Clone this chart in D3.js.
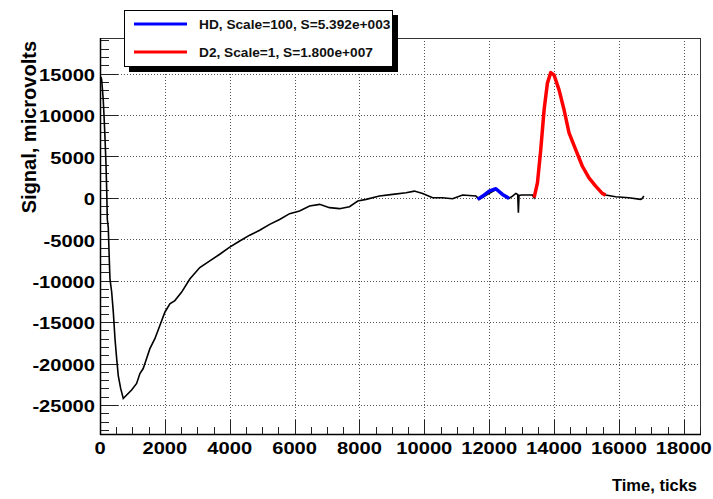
<!DOCTYPE html>
<html><head><meta charset="utf-8">
<script src="https://cdn.jsdelivr.net/npm/d3@7"></script>
<style>
body{margin:0;background:#fff;}
svg text{font-family:"Liberation Sans",Arial,Helvetica,sans-serif;}
</style></head>
<body><svg id="c" width="713" height="499"></svg>
<script>
// Signal (black) - time ticks and microvolts
const blackTicks = [30,52,100,123,154,185,206,225,255,286,308,360,410,462,514,563,637,718,822,975,1129,1231,1332,1437,1538,1692,1846,2000,2154,2308,2513,2769,3077,3385,3692,4000,4308,4615,4923,5231,5538,5846,6154,6462,6770,7077,7385,7692,7948,8206,8616,9025,9437,9693,9948,10256,10563,10871,11179,11591,11693,11900,12206,12400,12615,12720,12820,12880,12900,12920,13000,13333,13385,13488,13590,13693,13795,13898,14000,14154,14308,14462,14667,14873,15077,15282,15487,15590,15900,16308,16667,16700,16770];
const blackValues = [14600,14240,11840,10040,7270,4030,1020,-2580,-3550,-7390,-9800,-11360,-13760,-17000,-19400,-21450,-23000,-24220,-23800,-23200,-22400,-21200,-20600,-19400,-18200,-17000,-15400,-13800,-12800,-12400,-11400,-9800,-8400,-7600,-6800,-5950,-5200,-4500,-3900,-3200,-2600,-1900,-1590,-980,-780,-1180,-1300,-1060,-380,-180,220,420,620,820,540,20,20,-100,340,220,-180,300,1000,400,-60,220,540,400,-1780,300,340,340,20,1820,5830,10640,13850,15120,14840,13040,10640,7840,5830,3820,2420,1420,540,340,140,20,-180,-150,220];
// HD, Scale=100 (blue)
const hdTicks = [11640,11800,12000,12206,12410,12615];
const hdValues = [-180,220,820,1100,420,-60];
// D2, Scale=1 (red)
const d2Ticks = [13385,13488,13590,13693,13795,13898,14000,14154,14308,14462,14667,14873,15077,15282,15487,15590];
const d2Values = [20,1820,5830,10640,13850,15120,14840,13040,10640,7840,5830,3820,2420,1420,540,340];

const xTickVals = [0,2000,4000,6000,8000,10000,12000,14000,16000,18000];
const yTickVals = [-25000,-20000,-15000,-10000,-5000,0,5000,10000,15000];
const legendLabels = ["HD, Scale=100, S=5.392e+003","D2, Scale=1, S=1.800e+007"];
const legendColors = ["#0000ff","#ff0000"];

const L=100,R=700,T=38,B=434;
const svg=d3.select("#c");
const x=d3.scaleLinear().domain([0,18500]).range([L,R]);
const y=d3.scaleLinear().domain([-28500,19300]).range([B,T]);

// grid
const g=svg.append("g");
g.selectAll(".gx").data(xTickVals.filter(v=>v>0)).enter().append("line")
 .attr("x1",d=>Math.round(x(d))+0.5).attr("x2",d=>Math.round(x(d))+0.5).attr("y1",T).attr("y2",B)
 .attr("stroke","#555").attr("stroke-width",1).attr("stroke-dasharray","1,2");
g.selectAll(".gy").data(yTickVals).enter().append("line")
 .attr("y1",d=>Math.round(y(d))+0.5).attr("y2",d=>Math.round(y(d))+0.5).attr("x1",L).attr("x2",R)
 .attr("stroke","#555").attr("stroke-width",1).attr("stroke-dasharray","1,2");

// frame
svg.append("rect").attr("x",L+0.5).attr("y",T+0.5).attr("width",R-L).attr("height",B-T)
 .attr("fill","none").attr("stroke","#333").attr("stroke-width",1);

// axes ticks
const yMinor=d3.range(-28000,19001,1000);
svg.append("g").selectAll("line").data(yMinor).enter().append("line")
 .attr("x1",L).attr("x2",d=>L+(d%5000===0?18:9))
 .attr("y1",d=>Math.round(y(d))+0.5).attr("y2",d=>Math.round(y(d))+0.5)
 .attr("stroke","#222").attr("stroke-width",1);
const xMinor=d3.range(0,18501,500);
svg.append("g").selectAll("line").data(xMinor).enter().append("line")
 .attr("x1",d=>Math.round(x(d))+0.5).attr("x2",d=>Math.round(x(d))+0.5)
 .attr("y1",B).attr("y2",d=>B-(d%2000===0?14:7))
 .attr("stroke","#222").attr("stroke-width",1);
svg.append("line").attr("x1",L+0.5).attr("x2",L+0.5).attr("y1",T).attr("y2",B+1).attr("stroke","#000").attr("stroke-width",1.5);
svg.append("line").attr("x1",L).attr("x2",R+1).attr("y1",B+0.5).attr("y2",B+0.5).attr("stroke","#000").attr("stroke-width",1.5);

// tick labels (wide bold face)
svg.append("g").selectAll("text").data(yTickVals).enter().append("text")
 .attr("transform",d=>`translate(95,${y(d)+7.3}) scale(1.17,1)`).attr("text-anchor","end")
 .attr("font-size",17.2).attr("font-weight","bold").text(d=>d);
svg.append("g").selectAll("text").data(xTickVals).enter().append("text")
 .attr("transform",d=>`translate(${x(d)},454) scale(1.17,1)`).attr("text-anchor","middle")
 .attr("font-size",17.2).attr("font-weight","bold").text(d=>d);

// titles
svg.append("text").attr("transform","translate(36,41) rotate(-90)").attr("text-anchor","end")
 .attr("font-size",20).attr("font-weight","bold").text("Signal, microvolts");
svg.append("text").attr("x",697).attr("y",491).attr("text-anchor","end")
 .attr("font-size",16.5).attr("font-weight","bold").text("Time, ticks");

// curves
const line=d3.line().x(d=>x(d[0])).y(d=>y(d[1]));
svg.append("path").datum(d3.zip(blackTicks,blackValues)).attr("d",line)
 .attr("fill","none").attr("stroke","#000").attr("stroke-width",1.6);
svg.append("path").datum(d3.zip(hdTicks,hdValues)).attr("d",line)
 .attr("fill","none").attr("stroke",legendColors[0]).attr("stroke-width",3.5).attr("stroke-linejoin","round");
svg.append("path").datum(d3.zip(d2Ticks,d2Values)).attr("d",line)
 .attr("fill","none").attr("stroke",legendColors[1]).attr("stroke-width",3.5).attr("stroke-linejoin","round");

// legend
const lg=svg.append("g");
lg.append("rect").attr("x",129).attr("y",15).attr("width",269).attr("height",57).attr("fill","#000");
lg.append("rect").attr("x",124.5).attr("y",10.5).attr("width",268).attr("height",56).attr("fill","#fff").attr("stroke","#000").attr("stroke-width",1);
legendLabels.forEach((t,i)=>{
  const yy=24+i*28;
  lg.append("line").attr("x1",134).attr("x2",187).attr("y1",yy).attr("y2",yy).attr("stroke",legendColors[i]).attr("stroke-width",3);
  lg.append("text").attr("x",199).attr("y",yy+5).attr("font-size",13.7).attr("font-weight","bold").attr("fill","#111").text(t);
});
</script></body></html>
